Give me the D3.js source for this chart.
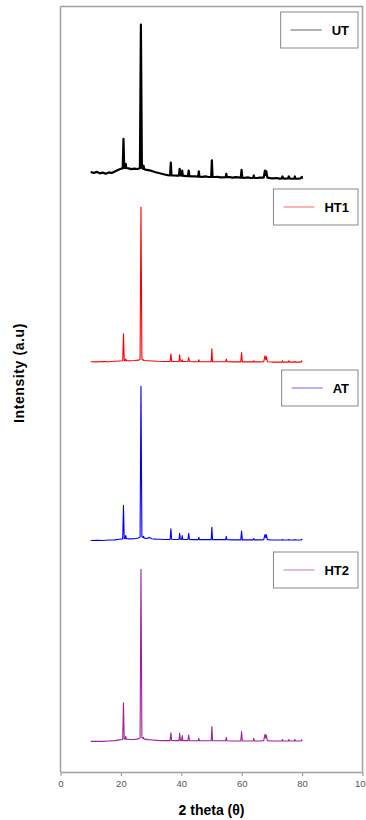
<!DOCTYPE html>
<html>
<head>
<meta charset="utf-8">
<script src="https://cdn.jsdelivr.net/npm/d3@7"></script>
<style>
  body { margin: 0; background: #fff; }
  text { font-family: "Liberation Sans", Arial, sans-serif; }
</style>
</head>
<body>
<script>
// series, stacking offsets (a.u.) and colours
const seriesNames = ["UT", "HT1", "AT", "HT2"];
const seriesOffsets = [310, 214, 121, 16];
const seriesColors = ["#000000", "#ff0000", "#0000ff", "#a020a0"];
const xTicks = [0, 20, 40, 60, 80, 100];

// [2theta, intensity above own baseline]
const utData = [
  [10, 3.5], [11, 3.0], [12, 3.6], [13, 2.8], [14, 3.2], [15, 2.6], [16, 3.3], [17, 3.0], [18, 3.8], [19, 4.6],
  [20, 5.2], [20.6, 5.4], [20.85, 20.9], [21.1, 5.8], [21.4, 5.6], [21.6, 7.8], [21.8, 5.6], [22.5, 5.4], [23.5, 5.0],
  [24.5, 5.3], [25.5, 5.1], [26.3, 5.5], [26.62, 80.5], [26.95, 5.8], [27.3, 5.2], [27.5, 6.8], [27.7, 5.0], [28.5, 4.6],
  [29.5, 4.4], [30.5, 3.9], [31.5, 3.4], [32.5, 3.0], [33.5, 2.6], [34.5, 2.2], [35.5, 1.9], [36.3, 1.8], [36.52, 8.4],
  [36.75, 1.8], [37.5, 1.7], [38.5, 1.6], [39.2, 1.6], [39.45, 5.2], [39.7, 1.8], [40.1, 1.6], [40.3, 4.3], [40.5, 1.6],
  [41.5, 1.4], [42.2, 1.4], [42.45, 4.3], [42.7, 1.4], [43.5, 1.2], [44.5, 1.3], [45.6, 1.1], [45.8, 3.8], [46.0, 1.1],
  [47, 1.0], [48, 1.2], [49, 0.9], [49.9, 1.0], [50.12, 9.6], [50.35, 1.0], [51, 0.9], [52, 1.0], [53, 0.7], [54.7, 0.8],
  [54.9, 2.6], [55.1, 0.8], [56, 0.8], [57, 0.6], [58, 0.8], [59.7, 0.6], [59.95, 4.7], [60.2, 0.6], [61, 0.5], [62, 0.7],
  [63, 0.4], [63.8, 0.5], [64.0, 1.7], [64.2, 0.5], [65, 0.4], [66, 0.6], [67.3, 0.6], [67.7, 4.3], [67.95, 2.0],
  [68.15, 3.9], [68.5, 0.6], [69.5, 0.3], [70.5, 0.2], [71.5, 0.4], [72.5, 0.1], [73.3, 0.2], [73.5, 1.2], [73.7, 0.2],
  [74.5, 0.1], [75.4, 0.2], [75.6, 1.2], [75.8, 0.2], [76.5, 0.0], [77.4, 0.1], [77.6, 1.2], [77.8, 0.1], [78.5, 0.0],
  [79.5, 0.2], [79.9, 1.0], [80, 0.0]
];

const ht1Data = [
  [10, 0.4], [12, 0.3], [14, 0.5], [16, 0.4], [18, 0.6], [19.5, 0.8], [20.6, 0.9], [20.85, 15.0], [21.1, 1.0], [21.4, 0.9],
  [21.6, 1.9], [21.8, 0.9], [23, 0.9], [24.5, 1.0], [25.8, 1.2], [26.35, 1.6], [26.65, 81.2], [26.95, 1.8], [27.3, 1.2],
  [27.5, 1.4], [27.7, 1.0], [29, 0.9], [30.5, 0.8], [32, 0.6], [34, 0.5], [36.3, 0.5], [36.55, 4.5], [36.8, 0.5], [38, 0.5],
  [39.25, 0.5], [39.45, 4.0], [39.7, 0.6], [40.1, 0.5], [40.3, 1.4], [40.5, 0.5], [42.2, 0.5], [42.45, 2.6], [42.7, 0.5],
  [44, 0.4], [45.6, 0.4], [45.8, 1.4], [46, 0.4], [48, 0.4], [49.9, 0.4], [50.12, 7.2], [50.35, 0.4], [52, 0.4],
  [54.7, 0.4], [54.9, 1.8], [55.1, 0.4], [57, 0.3], [59.7, 0.3], [59.95, 5.2], [60.2, 0.3], [62, 0.3], [63.8, 0.3],
  [64.0, 0.9], [64.2, 0.3], [66, 0.3], [67.3, 0.4], [67.7, 3.5], [67.95, 1.5], [68.15, 3.1], [68.5, 0.4], [70, 0.2],
  [72, 0.2], [73.3, 0.2], [73.5, 0.9], [73.7, 0.2], [75.4, 0.2], [75.6, 0.9], [75.8, 0.2], [77.4, 0.2], [77.6, 0.6],
  [77.8, 0.2], [79.6, 0.2], [79.9, 0.8], [80, 0.3]
];

const atData = [
  [10, 0.0], [12, 0.1], [14, 0.0], [16, 0.2], [18, 0.3], [19.5, 0.6], [20.6, 0.8], [20.85, 18.3], [21.1, 1.0], [21.4, 0.9],
  [21.6, 2.6], [21.8, 0.9], [23, 0.8], [24.5, 0.9], [25.8, 1.3], [26.35, 1.8], [26.65, 80.6], [26.95, 2.0], [27.3, 1.5],
  [27.5, 2.2], [27.7, 1.2], [28.6, 1.0], [29.5, 1.6], [30.2, 0.9], [31.5, 0.7], [33, 0.6], [34.5, 0.5], [36.3, 0.5],
  [36.55, 6.1], [36.8, 0.6], [38, 0.5], [39.25, 0.5], [39.45, 3.7], [39.7, 0.6], [40.1, 0.5], [40.3, 2.6], [40.5, 0.5],
  [42.2, 0.5], [42.45, 3.7], [42.7, 0.5], [44, 0.4], [45.6, 0.4], [45.8, 1.6], [46, 0.4], [48, 0.4], [49.9, 0.4],
  [50.12, 6.9], [50.35, 0.4], [52, 0.4], [54.7, 0.4], [54.9, 2.2], [55.1, 0.4], [57, 0.3], [59.7, 0.3], [59.95, 4.9],
  [60.2, 0.3], [62, 0.3], [63.8, 0.3], [64.0, 1.0], [64.2, 0.3], [66, 0.3], [67.3, 0.4], [67.7, 3.1], [67.95, 1.5],
  [68.15, 3.0], [68.5, 0.4], [70, 0.2], [72, 0.2], [73.3, 0.2], [73.5, 0.5], [73.7, 0.2], [75.4, 0.2], [75.6, 0.5],
  [75.8, 0.2], [77.4, 0.2], [77.6, 0.5], [77.8, 0.2], [79.6, 0.2], [79.9, 0.6], [80, 0.2]
];

const ht2Data = [
  [10, 0.0], [12, 0.1], [14, 0.0], [16, 0.2], [18, 0.4], [19.5, 0.8], [20.6, 1.0], [20.85, 20.2], [21.1, 1.2], [21.4, 1.1],
  [21.6, 2.6], [21.8, 1.2], [23, 1.0], [24.5, 1.0], [25.8, 1.3], [26.35, 1.8], [26.65, 89.9], [26.95, 2.0], [27.3, 1.5],
  [27.5, 2.1], [27.7, 1.2], [29, 0.9], [30.5, 0.7], [32, 0.5], [34, 0.4], [36.3, 0.4], [36.55, 4.5], [36.8, 0.5],
  [38, 0.4], [39.25, 0.4], [39.45, 4.2], [39.7, 0.5], [40.1, 0.4], [40.3, 3.1], [40.5, 0.4], [42.2, 0.4], [42.45, 3.3],
  [42.7, 0.4], [44, 0.3], [45.6, 0.3], [45.8, 1.6], [46, 0.3], [48, 0.3], [49.9, 0.3], [50.12, 7.8], [50.35, 0.3],
  [52, 0.3], [54.7, 0.3], [54.9, 2.1], [55.1, 0.3], [57, 0.2], [59.7, 0.2], [59.95, 5.2], [60.2, 0.2], [62, 0.2],
  [63.8, 0.2], [64.0, 1.6], [64.2, 0.2], [66, 0.2], [67.3, 0.4], [67.7, 3.7], [67.95, 1.8], [68.15, 3.3], [68.5, 0.4],
  [70, 0.2], [72, 0.2], [73.3, 0.2], [73.5, 1.0], [73.7, 0.2], [75.4, 0.2], [75.6, 1.0], [75.8, 0.2], [77.4, 0.2],
  [77.6, 1.0], [77.8, 0.2], [79.6, 0.2], [79.9, 0.8], [80, 0.2]
];

const seriesData = [utData, ht1Data, atData, ht2Data];

const width = 366, height = 820;
const plot = { left: 60.5, right: 362.5, top: 6.5, bottom: 772 };
const legendTops = [12, 189, 370, 552];
const frameColor = "#a0a0a0";

const svg = d3.select("body").append("svg")
    .attr("width", width)
    .attr("height", height);

const x = d3.scaleLinear().domain([0, 100]).range([plot.left, plot.right]);
const y = d3.scaleLinear().domain([0, 400]).range([plot.bottom, plot.top]);

// frame: top and right lines
svg.append("path")
    .attr("d", `M${plot.left},${plot.top}H${plot.right}V${plot.bottom}`)
    .attr("fill", "none")
    .attr("stroke", frameColor)
    .attr("stroke-width", 1.5);

// left axis line (no ticks)
svg.append("line")
    .attr("x1", plot.left).attr("x2", plot.left)
    .attr("y1", plot.top).attr("y2", plot.bottom)
    .attr("stroke", frameColor)
    .attr("stroke-width", 1.5);

// bottom axis
const xAxis = svg.append("g")
    .attr("transform", `translate(0,${plot.bottom})`)
    .call(d3.axisBottom(x).tickValues(xTicks).tickSize(4).tickPadding(4).tickSizeOuter(0));
xAxis.select(".domain").attr("stroke", frameColor).attr("stroke-width", 1.5);
xAxis.selectAll(".tick line").attr("stroke", frameColor).attr("stroke-width", 1.2);
xAxis.selectAll(".tick text")
    .attr("fill", "#555")
    .attr("font-size", "9.5px")
    .style("font-family", "'Liberation Sans', Arial, sans-serif");

// patterns
const line = d3.line()
    .x(d => x(d[0]));

seriesData.forEach((data, i) => {
    svg.append("path")
        .datum(data)
        .attr("fill", "none")
        .attr("stroke", seriesColors[i])
        .attr("stroke-width", i === 0 ? 2.2 : 1.1)
        .attr("stroke-linejoin", "round")
        .attr("d", line.y(d => y(d[1] + seriesOffsets[i])));
});

// legends
seriesNames.forEach((name, i) => {
    const g = svg.append("g");
    const boxRight = 358, top = legendTops[i], h = 36;
    const txt = g.append("text")
        .attr("y", top + h / 2)
        .attr("dy", "0.36em")
        .attr("font-size", "13px")
        .attr("font-weight", "bold")
        .attr("fill", "#000")
        .text(name);
    const tw = txt.node().getComputedTextLength();
    const textX = boxRight - 9 - tw;
    txt.attr("x", textX);
    const lineEnd = textX - 10, lineStart = lineEnd - 31;
    g.insert("rect", "text")
        .attr("x", lineStart - 10)
        .attr("y", top)
        .attr("width", boxRight - (lineStart - 10))
        .attr("height", h)
        .attr("fill", "#fff")
        .attr("stroke", "#888")
        .attr("stroke-width", 1);
    g.append("line")
        .attr("x1", lineStart).attr("x2", lineEnd)
        .attr("y1", top + h / 2).attr("y2", top + h / 2)
        .attr("stroke", seriesColors[i])
        .attr("stroke-width", 1)
        .attr("opacity", 0.6);
});

// axis titles
svg.append("text")
    .attr("x", (plot.left + plot.right) / 2)
    .attr("y", 815)
    .attr("text-anchor", "middle")
    .attr("font-size", "14px")
    .attr("font-weight", "bold")
    .text("2 theta (θ)");

svg.append("text")
    .attr("transform", "translate(24,373) rotate(-90)")
    .attr("text-anchor", "middle")
    .attr("font-size", "14px")
    .attr("font-weight", "bold")
    .attr("letter-spacing", "0.6px")
    .text("Intensity (a.u)");
</script>
</body>
</html>
